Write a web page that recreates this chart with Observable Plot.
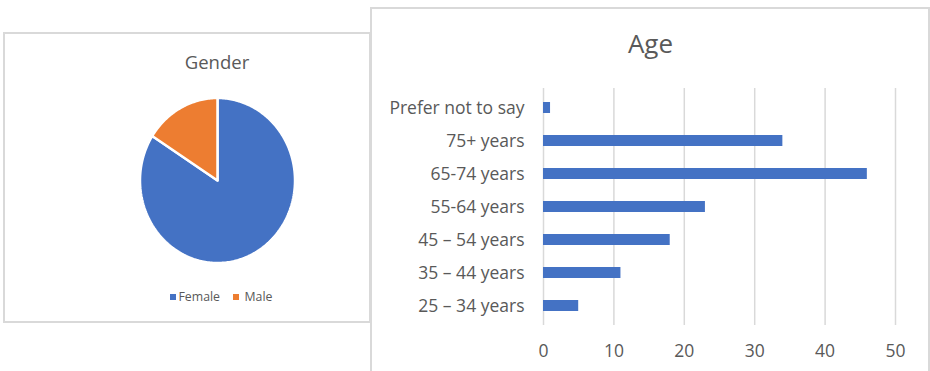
<!DOCTYPE html>
<html>
<head>
<meta charset="utf-8">
<script src="https://cdn.jsdelivr.net/npm/d3@7"></script>
<script src="https://cdn.jsdelivr.net/npm/@observablehq/plot@0.6"></script>
<style>
  html, body { margin: 0; padding: 0; background: #fff; }
  #root { position: relative; width: 930px; height: 371px; overflow: hidden; font-family: "Open Sans", sans-serif; color: #595959; }
  .panel { position: absolute; box-sizing: border-box; border: 2px solid #d9d9d9; background: #fff; }
  .abs { position: absolute; }
  .title { position: absolute; text-align: center; white-space: nowrap; color: #595959; }
  .sw { position: absolute; width: 6px; height: 6px; }
  .lt { position: absolute; font-size: 12.3px; line-height: 14px; color: #595959; white-space: nowrap; }
  #bars svg text { font-size: 17.5px; }
</style>
</head>
<body>
<div id="root">
  <div class="panel" id="leftPanel" style="left:3px; top:32px; width:368px; height:291px;"></div>
  <div class="title" style="left:117px; top:50px; width:200px; font-size:18.5px; line-height:24px;">Gender</div>
  <div class="abs" id="pie" style="left:6px; top:34px;"></div>
  <div id="legend"></div>
  <div class="panel" id="rightPanel" style="left:370px; top:7px; width:560px; height:380px;"></div>
  <div class="title" style="left:550px; top:28px; width:201px; font-size:26px; line-height:30px;">Age</div>
  <div class="abs" id="bars" style="left:370px; top:70px;"></div>
</div>
<script>
// ---- Data ----
const genderLabels = ["Female", "Male"];
const genderValues = [116, 22];
const genderColors = ["#4472C4", "#ED7D31"];

const ageCategories = ["Prefer not to say", "75+ years", "65-74 years", "55-64 years", "45 – 54 years", "35 – 44 years", "25 – 34 years"];
const ageValues = [1, 34, 46, 23, 18, 11, 5];
const xTicks = [0, 10, 20, 30, 40, 50];
const barColor = "#4472C4";

// ---- Pie (Gender) ----
const pieW = 362, pieH = 287;
const cx = 211, cy = 146, rx = 77.5, ry = 82.5;
const genderData = genderLabels.map((label, i) => ({label, value: genderValues[i]}));
const arcs = d3.pie().sort(null).value(d => d.value)(genderData);
const piePoints = [];
for (const a of arcs) {
  const n = Math.max(8, Math.ceil((a.endAngle - a.startAngle) / (Math.PI / 180)));
  piePoints.push({label: a.data.label, x: 0, y: 0});
  for (let k = 0; k <= n; k++) {
    const t = a.startAngle + (a.endAngle - a.startAngle) * k / n;
    piePoints.push({label: a.data.label, x: Math.sin(t), y: Math.cos(t)});
  }
  piePoints.push({label: a.data.label, x: 0, y: 0});
}
const pie = Plot.plot({
  width: pieW, height: pieH, margin: 0,
  style: {background: "transparent", overflow: "visible"},
  x: {domain: [-cx / rx, (pieW - cx) / rx], axis: null},
  y: {domain: [(cy - pieH) / ry, cy / ry], axis: null},
  color: {domain: genderLabels, range: genderColors},
  marks: [
    Plot.line(piePoints, {x: "x", y: "y", z: "label", fill: "label", stroke: "white", strokeWidth: 2.5, strokeLinejoin: "miter"})
  ]
});
document.getElementById("pie").appendChild(pie);

// Legend
const legend = document.getElementById("legend");
const legendPos = [{sq: 169.5, tx: 178.5}, {sq: 232.5, tx: 244.5}];
genderLabels.forEach((label, i) => {
  const sw = document.createElement("div");
  sw.className = "sw";
  sw.style.left = legendPos[i].sq + "px";
  sw.style.top = "294px";
  sw.style.background = genderColors[i];
  legend.appendChild(sw);
  const t = document.createElement("div");
  t.className = "lt";
  t.style.left = legendPos[i].tx + "px";
  t.style.top = "290px";
  t.textContent = label;
  legend.appendChild(t);
});

// ---- Bars (Age) ----
const ageData = ageCategories.map((c, i) => ({category: c, value: ageValues[i]}));
const bars = Plot.plot({
  width: 560, height: 301,
  marginLeft: 173, marginRight: 35, marginTop: 18, marginBottom: 46,
  style: {background: "transparent", color: "#595959", fontFamily: "'Open Sans', sans-serif", fontSize: "17.5px", overflow: "visible"},
  x: {domain: [0, 50], ticks: xTicks, tickSize: 0, tickPadding: 19, label: null},
  y: {domain: ageCategories, paddingInner: 0.66, paddingOuter: 0.33, tickSize: 0, tickPadding: 19, label: null},
  marks: [
    Plot.ruleX(xTicks, {stroke: "#d9d9d9", strokeWidth: 1.5}),
    Plot.barX(ageData, {x: "value", y: "category", fill: barColor})
  ]
});
document.getElementById("bars").appendChild(bars);
</script>
</body>
</html>
